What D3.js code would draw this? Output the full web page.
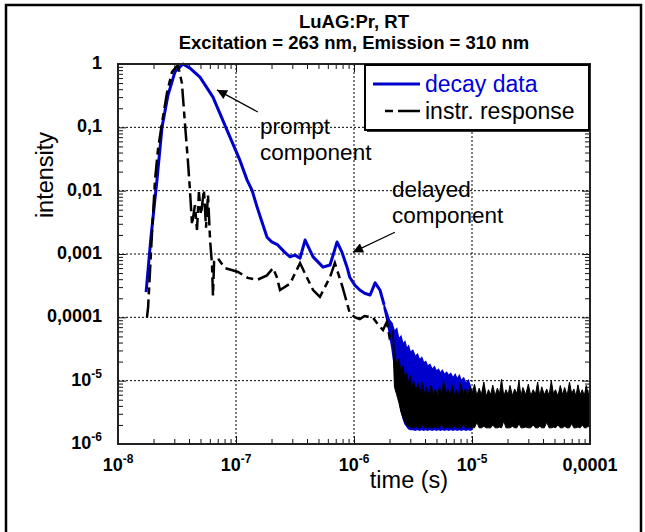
<!DOCTYPE html>
<html>
<head>
<meta charset="utf-8">
<script src="https://cdn.jsdelivr.net/npm/d3@7"></script>
<style>
  body { margin: 0; background: #fff; }
  text { font-family: "Liberation Sans", Arial, sans-serif; }
</style>
</head>
<body>
<script>
// decay data (blue), time in s
let decayTime = [
  1.73e-8, 1.9e-8, 2.14e-8, 2.36e-8, 2.65e-8, 3.04e-8, 3.55e-8, 4.07e-8, 4.95e-8, 6.38e-8,
  8.2e-8, 1.08e-7, 1.24e-7, 1.37e-7, 1.51e-7, 1.66e-7, 1.83e-7, 2.01e-7, 2.26e-7, 2.58e-7,
  2.87e-7, 3.16e-7, 3.49e-7, 3.85e-7, 4.15e-7, 4.5e-7, 4.95e-7, 5.46e-7, 6.26e-7, 6.77e-7,
  7.18e-7, 7.9e-7, 8.73e-7, 9.2e-7, 1.02e-6, 1.12e-6, 1.23e-6, 1.37e-6, 1.51e-6, 1.66e-6,
  1.8e-6
];
let decayIntensity = [
  2.5e-4, 1.8e-3, 0.0148, 0.1, 0.32, 0.75, 1.0, 0.86, 0.62, 0.30,
  0.1, 0.030, 0.0148, 0.01, 5.5e-3, 3.2e-3, 1.85e-3, 1.55e-3, 1.39e-3, 1.07e-3,
  9.0e-4, 9.6e-4, 8.6e-4, 1.66e-3, 1.24e-3, 9.0e-4, 7.5e-4, 6.2e-4, 6.7e-4, 1.07e-3,
  1.55e-3, 1.07e-3, 6.2e-4, 4.3e-4, 3.2e-4, 2.7e-4, 2.4e-4, 2.25e-4, 3.5e-4, 2.7e-4,
  1.57e-4
];
// noisy end of the decay: upper and lower envelope of the scatter
let decayTailTime = [
  1.8e-6, 1.9e-6, 2.0e-6, 2.1e-6, 2.2e-6, 2.3e-6, 2.4e-6, 2.5e-6, 2.6e-6, 2.7e-6,
  2.8e-6, 2.9e-6, 3.0e-6, 3.15e-6, 3.3e-6, 3.45e-6, 3.6e-6, 3.75e-6, 3.9e-6, 4.05e-6,
  4.2e-6, 4.4e-6, 4.6e-6, 4.8e-6, 5.0e-6, 5.2e-6, 5.4e-6, 5.6e-6, 5.85e-6, 6.1e-6,
  6.35e-6, 6.6e-6, 6.9e-6, 7.2e-6, 7.5e-6, 7.8e-6, 8.1e-6, 8.5e-6, 8.9e-6, 9.3e-6,
  9.7e-6, 1.0e-5
];
let decayTailHigh = [
  1.57e-4, 1.2e-4, 9e-5, 8e-5, 6e-5, 6.6e-5, 4.5e-5, 5e-5, 3.8e-5, 4.1e-5,
  3.2e-5, 3.5e-5, 2.8e-5, 3e-5, 2.4e-5, 2.6e-5, 2.1e-5, 2.3e-5, 1.9e-5, 2.0e-5,
  1.7e-5, 1.8e-5, 1.5e-5, 1.65e-5, 1.4e-5, 1.5e-5, 1.3e-5, 1.45e-5, 1.25e-5, 1.35e-5,
  1.2e-5, 1.3e-5, 1.1e-5, 1.25e-5, 1.05e-5, 1.2e-5, 1.0e-5, 1.1e-5, 9e-6, 1.0e-5,
  8e-6, 6.5e-6
];
let decayTailLow = [
  1.4e-4, 9e-5, 5.5e-5, 3.2e-5, 1.7e-5, 9e-6, 5.5e-6, 3.5e-6, 2.6e-6, 2.1e-6,
  1.9e-6, 1.75e-6, 1.7e-6, 1.7e-6, 1.65e-6, 1.7e-6, 1.65e-6, 1.7e-6, 1.65e-6, 1.7e-6,
  1.65e-6, 1.7e-6, 1.65e-6, 1.7e-6, 1.65e-6, 1.7e-6, 1.65e-6, 1.7e-6, 1.65e-6, 1.7e-6,
  1.65e-6, 1.7e-6, 1.65e-6, 1.7e-6, 1.65e-6, 1.7e-6, 1.65e-6, 1.7e-6, 1.65e-6, 1.7e-6,
  1.65e-6, 1.7e-6
];

// instrument response (black dashed), time in s
let irfTime = [
  1.76e-8, 1.8e-8, 1.87e-8, 1.94e-8, 2.06e-8, 2.18e-8, 2.36e-8, 2.6e-8, 2.87e-8, 3.22e-8,
  3.48e-8, 3.69e-8, 3.91e-8, 4.07e-8, 4.24e-8, 4.49e-8, 4.67e-8, 4.85e-8, 5.05e-8, 5.35e-8,
  5.57e-8, 5.79e-8, 6.03e-8, 6.26e-8, 6.38e-8, 6.52e-8, 7.0e-8, 8.07e-8, 9.2e-8, 1.04e-7,
  1.26e-7, 1.51e-7, 1.83e-7, 2.06e-7, 2.22e-7, 2.36e-7, 2.87e-7, 3.49e-7, 3.98e-7, 4.5e-7,
  5.14e-7, 6.26e-7, 6.88e-7, 8.0e-7, 9.2e-7, 1.02e-6, 1.12e-6, 1.23e-6, 1.44e-6, 1.6e-6,
  1.76e-6, 1.9e-6, 2.0e-6, 2.14e-6
];
let irfIntensity = [
  1e-4, 1.45e-4, 5.6e-4, 2.1e-3, 0.0148, 0.044, 0.117, 0.35, 0.75, 0.96,
  0.50, 0.117, 0.030, 0.0103, 2.9e-3, 5.9e-3, 2.4e-3, 9.5e-3, 4.2e-3, 0.0103,
  2.6e-3, 8.6e-3, 1.66e-3, 6.8e-4, 2.2e-4, 7.5e-4, 8.6e-4, 6.0e-4, 5.6e-4, 5.2e-4,
  4.2e-4, 3.9e-4, 4.6e-4, 6.0e-4, 4.3e-4, 2.7e-4, 3.4e-4, 7.2e-4, 4.3e-4, 2.7e-4,
  2.1e-4, 4.3e-4, 7.2e-4, 3.0e-4, 1.17e-4, 1.0e-4, 9.4e-5, 1.05e-4, 1.0e-4, 7.7e-5,
  6.3e-5, 8.5e-5, 4.9e-5, 6.3e-5
];
// noisy background of the instrument response: upper and lower envelope
let irfTailTime = [
  2.14e-6,
  2.2e-6, 2.3e-6, 2.4e-6, 2.5e-6, 2.6e-6, 2.7e-6, 2.8e-6, 2.9e-6, 3.0e-6, 3.1e-6,
  3.2e-6, 3.35e-6, 3.5e-6, 3.65e-6, 3.8e-6, 3.95e-6, 4.1e-6, 4.3e-6, 4.5e-6, 4.7e-6,
  4.9e-6, 5.1e-6, 5.3e-6, 5.5e-6, 5.75e-6, 6.0e-6, 6.25e-6, 6.5e-6, 6.8e-6, 7.1e-6,
  7.4e-6, 7.7e-6, 8.0e-6, 8.4e-6, 8.8e-6, 9.2e-6, 9.6e-6, 1.0e-5, 1.05e-5, 1.1e-5,
  1.15e-5, 1.2e-5, 1.26e-5, 1.32e-5, 1.38e-5, 1.44e-5, 1.5e-5, 1.57e-5, 1.64e-5, 1.71e-5,
  1.78e-5, 1.86e-5, 1.94e-5, 2.02e-5, 2.1e-5, 2.2e-5, 2.3e-5, 2.4e-5, 2.5e-5, 2.6e-5,
  2.7e-5, 2.85e-5, 3.0e-5, 3.15e-5, 3.3e-5, 3.45e-5, 3.6e-5, 3.75e-5, 3.9e-5, 4.1e-5,
  4.3e-5, 4.5e-5, 4.7e-5, 4.9e-5, 5.1e-5, 5.35e-5, 5.6e-5, 5.85e-5, 6.1e-5, 6.4e-5,
  6.7e-5, 7.0e-5, 7.3e-5, 7.6e-5, 7.9e-5, 8.25e-5, 8.6e-5, 8.95e-5, 9.3e-5, 9.65e-5,
  1.0e-4
];
let irfTailHigh = [
  6.3e-5,
  3.0e-5, 1.8e-5, 2.2e-5, 1.4e-5, 1.7e-5, 1.1e-5, 1.3e-5, 9e-6, 1.2e-5, 7.5e-6,
  1.0e-5, 7e-6, 9e-6, 6.5e-6, 9.5e-6, 6e-6, 8e-6, 6e-6, 8.5e-6, 5.8e-6,
  7.5e-6, 5.5e-6, 8e-6, 5.8e-6, 1.0e-5, 6e-6, 7.5e-6, 5.6e-6, 8.5e-6, 6e-6,
  7.2e-6, 5.7e-6, 9e-6, 6.2e-6, 7.5e-6, 5.6e-6, 8.2e-6, 6.2e-6, 8.8e-6, 5.8e-6,
  7.6e-6, 6e-6, 9.5e-6, 5.7e-6, 7.2e-6, 6e-6, 8.5e-6, 5.8e-6, 7.6e-6, 6.2e-6,
  1.05e-5, 5.7e-6, 7.2e-6, 6e-6, 8.4e-6, 5.8e-6, 7.4e-6, 6.2e-6, 1.0e-5, 5.7e-6,
  7.8e-6, 6e-6, 8.8e-6, 5.8e-6, 7.2e-6, 6.1e-6, 9.5e-6, 5.7e-6, 8e-6, 6e-6,
  7.4e-6, 5.8e-6, 1.0e-5, 6.2e-6, 7.2e-6, 5.7e-6, 8.4e-6, 6e-6, 7.8e-6, 5.8e-6,
  9.5e-6, 6.2e-6, 7.4e-6, 5.7e-6, 8.6e-6, 6e-6, 7.2e-6, 5.8e-6, 8.4e-6, 6.1e-6,
  7.2e-6
];
let irfTailLow = [
  4.0e-5,
  8e-6, 6e-6, 4.5e-6, 3.2e-6, 2.6e-6, 2.2e-6, 2.0e-6, 1.9e-6, 1.85e-6, 1.8e-6,
  1.8e-6, 1.9e-6, 1.8e-6, 1.8e-6, 2.0e-6, 1.8e-6, 1.8e-6, 1.85e-6, 1.8e-6, 1.8e-6,
  1.9e-6, 1.8e-6, 1.8e-6, 2.1e-6, 1.8e-6, 1.8e-6, 1.85e-6, 1.8e-6, 1.8e-6, 1.9e-6,
  1.8e-6, 1.8e-6, 1.8e-6, 2.0e-6, 1.8e-6, 1.8e-6, 1.85e-6, 1.8e-6, 1.8e-6, 2.2e-6,
  1.8e-6, 1.8e-6, 1.9e-6, 1.8e-6, 1.8e-6, 1.8e-6, 2.0e-6, 1.8e-6, 1.8e-6, 1.85e-6,
  1.8e-6, 2.3e-6, 1.8e-6, 1.8e-6, 1.8e-6, 1.9e-6, 1.8e-6, 1.8e-6, 2.1e-6, 1.8e-6,
  1.8e-6, 1.85e-6, 1.8e-6, 1.8e-6, 2.0e-6, 1.8e-6, 1.8e-6, 1.9e-6, 1.8e-6, 1.8e-6,
  2.2e-6, 1.8e-6, 1.8e-6, 1.85e-6, 1.8e-6, 2.0e-6, 1.8e-6, 1.8e-6, 1.9e-6, 1.8e-6,
  1.8e-6, 2.1e-6, 1.8e-6, 1.8e-6, 1.85e-6, 1.8e-6, 2.0e-6, 1.8e-6, 1.8e-6, 1.9e-6,
  1.8e-6
];

let seriesNames = ["decay data", "instr. response"];
let seriesColors = ["#0000cc", "#000000"];

let xTickValues = [1e-8, 1e-7, 1e-6, 1e-5, 1e-4];
let xTickBase = ["10", "10", "10", "10", "0,0001"];
let xTickExp = ["-8", "-7", "-6", "-5", ""];
let yTickValues = [1, 0.1, 0.01, 0.001, 0.0001, 1e-5, 1e-6];
let yTickBase = ["1", "0,1", "0,01", "0,001", "0,0001", "10", "10"];
let yTickExp = ["", "", "", "", "", "-5", "-6"];

// annotations: text lines anchored at [time, intensity], arrows [tail, tip]
let notePrompt = ["prompt", "component"];
let notePromptAt = [1.6e-7, 0.078];
let arrowPrompt = [[1.53e-7, 0.175], [6.9e-8, 0.39]];
let noteDelayed = ["delayed", "component"];
let noteDelayedAt = [2.1e-6, 0.0079];
let arrowDelayed = [[2.22e-6, 2.2e-3], [9.8e-7, 1.07e-3]];

let W = 645, H = 532;
let pL = 118, pR = 590, pT = 64, pB = 444;

let svg = d3.select("body").append("svg")
    .attr("width", W)
    .attr("height", H);

// outer frame
svg.append("rect")
    .attr("x", 6).attr("y", 5)
    .attr("width", 635).attr("height", 540)
    .attr("fill", "none")
    .attr("stroke", "#000")
    .attr("stroke-width", 2.5);

let x = d3.scaleLog().domain([1e-8, 1e-4]).range([pL, pR]);
let y = d3.scaleLog().domain([1e-6, 1]).range([pB, pT]);

// title
svg.append("text")
    .attr("x", (pL + pR) / 2).attr("y", 28)
    .attr("text-anchor", "middle")
    .style("font-size", "18.5px").style("font-weight", "bold")
    .text("LuAG:Pr, RT");
svg.append("text")
    .attr("x", (pL + pR) / 2).attr("y", 49)
    .attr("text-anchor", "middle")
    .style("font-size", "18.5px").style("font-weight", "bold")
    .text("Excitation = 263 nm, Emission = 310 nm");

// grid
let grid = svg.append("g");
grid.selectAll(".vgrid")
    .data(xTickValues.slice(1, -1))
    .enter().append("line")
    .attr("x1", d => x(d)).attr("x2", d => x(d))
    .attr("y1", pT).attr("y2", pB)
    .attr("stroke", "#000").attr("stroke-width", 1)
    .attr("stroke-dasharray", "2,2");
grid.selectAll(".hgrid")
    .data(yTickValues.slice(1, -1))
    .enter().append("line")
    .attr("x1", pL).attr("x2", pR)
    .attr("y1", d => y(d)).attr("y2", d => y(d))
    .attr("stroke", "#000").attr("stroke-width", 1)
    .attr("stroke-dasharray", "2,2");

// ticks on all four sides, pointing inward
let isDecade = d => Math.abs(Math.log10(d) - Math.round(Math.log10(d))) < 1e-6;
let xt = x.ticks();
let yt = y.ticks();
function tickAxis(axis, tr) {
    let g = svg.append("g").attr("transform", tr).call(axis);
    g.select(".domain").remove();
    g.selectAll(".tick line").attr("stroke", "#111").attr("stroke-width", 1);
    return g;
}
tickAxis(d3.axisBottom(x).tickValues(xt).tickFormat("").tickSizeInner(-5).tickSizeOuter(0), `translate(0,${pB})`)
    .selectAll(".tick line").filter(d => isDecade(d)).attr("y2", -8);
tickAxis(d3.axisTop(x).tickValues(xt).tickFormat("").tickSizeInner(-5).tickSizeOuter(0), `translate(0,${pT})`)
    .selectAll(".tick line").filter(d => isDecade(d)).attr("y2", 8);
tickAxis(d3.axisLeft(y).tickValues(yt).tickFormat("").tickSizeInner(-5).tickSizeOuter(0), `translate(${pL},0)`)
    .selectAll(".tick line").filter(d => isDecade(d)).attr("x2", 8);
tickAxis(d3.axisRight(y).tickValues(yt).tickFormat("").tickSizeInner(-5).tickSizeOuter(0), `translate(${pR},0)`)
    .selectAll(".tick line").filter(d => isDecade(d)).attr("x2", -8);

// tick labels
let xl = svg.selectAll(".xlab")
    .data(xTickValues)
    .enter().append("text")
    .attr("x", d => x(d)).attr("y", pB + 27)
    .attr("text-anchor", "middle")
    .style("font-size", "18px").style("font-weight", "bold");
xl.append("tspan").text((d, i) => xTickBase[i]);
xl.append("tspan").attr("dy", -8).style("font-size", "12px").text((d, i) => xTickExp[i]);

let yl = svg.selectAll(".ylab")
    .data(yTickValues)
    .enter().append("text")
    .attr("x", 102).attr("y", d => y(d) + 5)
    .attr("text-anchor", "end")
    .style("font-size", "18px").style("font-weight", "bold");
yl.append("tspan").text((d, i) => yTickBase[i]);
yl.append("tspan").attr("dy", -8).style("font-size", "12px").text((d, i) => yTickExp[i]);

// axis titles
svg.append("text")
    .attr("x", 409).attr("y", 488)
    .attr("text-anchor", "middle")
    .style("font-size", "23.5px")
    .text("time (s)");
svg.append("text")
    .attr("transform", "translate(53,175) rotate(-90)")
    .attr("text-anchor", "middle")
    .style("font-size", "23.5px")
    .text("intensity");

// curves
let line = d3.line().x(d => x(d[0])).y(d => y(d[1]));
let band = d3.area().x(d => x(d[0])).y0(d => y(d[2])).y1(d => y(d[1]));
let decay = decayTime.map((t, i) => [t, decayIntensity[i]]);
let decayTail = decayTailTime.map((t, i) => [t, decayTailHigh[i], decayTailLow[i]]);
let irf = irfTime.map((t, i) => [t, irfIntensity[i]]);
let irfTail = irfTailTime.map((t, i) => [t, irfTailHigh[i], irfTailLow[i]]);

let plot = svg.append("g");
plot.append("path")
    .datum(decay)
    .attr("d", line)
    .attr("fill", "none")
    .attr("stroke", seriesColors[0])
    .attr("stroke-width", 3)
    .attr("stroke-linejoin", "round");
plot.append("path")
    .datum(decayTail)
    .attr("d", band)
    .attr("fill", seriesColors[0])
    .attr("stroke", seriesColors[0])
    .attr("stroke-width", 1.5);
plot.append("path")
    .datum(irf)
    .attr("d", line)
    .attr("fill", "none")
    .attr("stroke", seriesColors[1])
    .attr("stroke-width", 2.5)
    .attr("stroke-dasharray", "18,5,7,5");
plot.append("path")
    .datum(irfTail)
    .attr("d", band)
    .attr("fill", seriesColors[1])
    .attr("stroke", seriesColors[1])
    .attr("stroke-width", 1);

// plot frame
svg.append("rect")
    .attr("x", pL).attr("y", pT)
    .attr("width", pR - pL).attr("height", pB - pT)
    .attr("fill", "none")
    .attr("stroke", "#222")
    .attr("stroke-width", 2);

// legend
let lg = svg.append("g");
lg.append("rect")
    .attr("x", 367).attr("y", 67).attr("width", 224).attr("height", 65)
    .attr("fill", "#333");
lg.append("rect")
    .attr("x", 365).attr("y", 65).attr("width", 224).attr("height", 65)
    .attr("fill", "#fff").attr("stroke", "#000").attr("stroke-width", 2);
let lgRow = lg.selectAll(".row")
    .data(seriesNames)
    .enter().append("g")
    .attr("transform", (d, i) => `translate(0,${84 + i * 27})`);
lgRow.append("line")
    .attr("x1", (d, i) => i === 0 ? 373 : 385).attr("x2", 420)
    .attr("y1", 0).attr("y2", 0)
    .attr("stroke", (d, i) => seriesColors[i])
    .attr("stroke-width", (d, i) => i === 0 ? 3 : 2.5)
    .attr("stroke-dasharray", (d, i) => i === 0 ? null : "8,5,22");
lgRow.append("text")
    .attr("x", 425).attr("y", 8)
    .style("font-size", "23px")
    .attr("fill", (d, i) => i === 0 ? "#0000dd" : "#000")
    .text(d => d);

// annotations
let ann = svg.append("g");
ann.append("defs").append("marker")
    .attr("id", "head")
    .attr("viewBox", "0 0 10 10")
    .attr("refX", 10).attr("refY", 5)
    .attr("markerWidth", 14).attr("markerHeight", 10)
    .attr("markerUnits", "userSpaceOnUse")
    .attr("orient", "auto")
    .append("path").attr("d", "M0,0L10,5L0,10z").attr("fill", "#000");
[arrowPrompt, arrowDelayed].forEach(a => {
    ann.append("line")
        .attr("x1", x(a[0][0])).attr("y1", y(a[0][1]))
        .attr("x2", x(a[1][0])).attr("y2", y(a[1][1]))
        .attr("stroke", "#000").attr("stroke-width", 1.2)
        .attr("marker-end", "url(#head)");
});
[[notePrompt, notePromptAt], [noteDelayed, noteDelayedAt]].forEach(n => {
    ann.selectAll(null)
        .data(n[0])
        .enter().append("text")
        .attr("x", x(n[1][0]))
        .attr("y", (d, i) => y(n[1][1]) + i * 26)
        .style("font-size", "22.5px")
        .text(d => d);
});
</script>
</body>
</html>
